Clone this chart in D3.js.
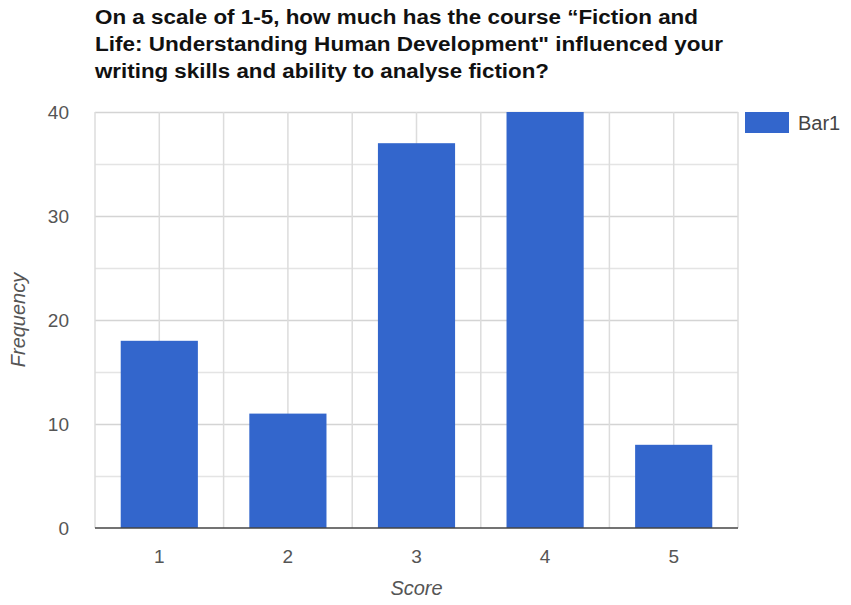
<!DOCTYPE html>
<html>
<head>
<meta charset="utf-8">
<script src="https://cdn.jsdelivr.net/npm/d3@7"></script>
<style>
  body { margin: 0; background: #fff; }
  text { font-family: "Liberation Sans", Arial, sans-serif; }
</style>
</head>
<body>
<svg width="851" height="605"></svg>
<script>
var scores = ["1", "2", "3", "4", "5"];
var frequency = [18, 11, 37, 40, 8];
var yTicks = [0, 10, 20, 30, 40];
var titleLines = [
  "On a scale of 1-5, how much has the course \u201CFiction and",
  "Life: Understanding Human Development\" influenced your",
  "writing skills and ability to analyse fiction?"
];
var seriesName = "Bar1";

var svg = d3.select("svg"),
    margin = {top: 112, right: 113, bottom: 77, left: 95},
    width = +svg.attr("width") - margin.left - margin.right,
    height = +svg.attr("height") - margin.top - margin.bottom,
    g = svg.append("g").attr("transform", "translate(" + margin.left + "," + margin.top + ")");

var x = d3.scaleBand().domain(scores).range([0, width]).paddingInner(0).paddingOuter(0);
var y = d3.scaleLinear().domain([0, 40]).range([height, 0]);

// horizontal grid, every 5
g.selectAll(".hgrid")
    .data(d3.range(5, 41, 5))
    .enter().append("line")
    .attr("x1", 0).attr("x2", width)
    .attr("y1", function(d) { return y(d) + 0.5; })
    .attr("y2", function(d) { return y(d) + 0.5; })
    .attr("stroke", function(d) { return d % 10 === 0 ? "#d4d4d4" : "#e4e4e4"; })
    .attr("stroke-width", 1.5);

// vertical grid at band edges and centres
var vlines = [];
scores.forEach(function(s) {
  vlines.push(x(s));
  vlines.push(x(s) + x.bandwidth() / 2);
});
vlines.push(width);
g.selectAll(".vgrid")
    .data(vlines)
    .enter().append("line")
    .attr("x1", function(d) { return d; }).attr("x2", function(d) { return d; })
    .attr("y1", 0).attr("y2", height)
    .attr("stroke", "#dcdcdc")
    .attr("stroke-width", 1.5);

// bars
g.selectAll(".bar")
    .data(frequency)
    .enter().append("rect")
    .attr("x", function(d, i) { return x(scores[i]) + x.bandwidth() * 0.2; })
    .attr("width", x.bandwidth() * 0.6)
    .attr("y", function(d) { return y(d); })
    .attr("height", function(d) { return height - y(d); })
    .attr("fill", "#3366cc");

// baseline
g.append("line")
    .attr("x1", 0).attr("x2", width)
    .attr("y1", height).attr("y2", height)
    .attr("stroke", "#444").attr("stroke-width", 1.5);

// y tick labels
g.selectAll(".ytick")
    .data(yTicks)
    .enter().append("text")
    .attr("x", -26)
    .attr("y", function(d) { return y(d); })
    .attr("dy", "0.36em")
    .attr("text-anchor", "end")
    .attr("font-size", 19)
    .attr("fill", "#555")
    .text(function(d) { return d; });

// x tick labels
g.selectAll(".xtick")
    .data(scores)
    .enter().append("text")
    .attr("x", function(d) { return x(d) + x.bandwidth() / 2; })
    .attr("y", height + 35)
    .attr("text-anchor", "middle")
    .attr("font-size", 19)
    .attr("fill", "#555")
    .text(function(d) { return d; });

// axis titles
svg.append("text")
    .attr("x", margin.left + width / 2)
    .attr("y", 595)
    .attr("text-anchor", "middle")
    .attr("font-size", 20)
    .attr("font-style", "italic")
    .attr("fill", "#555")
    .text("Score");

svg.append("text")
    .attr("transform", "translate(25," + (margin.top + height / 2) + ") rotate(-90)")
    .attr("text-anchor", "middle")
    .attr("font-size", 20)
    .attr("font-style", "italic")
    .attr("fill", "#555")
    .text("Frequency");

// title (reference lettering is a bit wide, so stretch each line)
var titleWidths = [603, 628, 454];
svg.append("g").selectAll("text")
    .data(titleLines)
    .enter().append("text")
    .attr("x", 95)
    .attr("y", function(d, i) { return 24 + i * 27; })
    .attr("font-size", 19.5)
    .attr("font-weight", "bold")
    .attr("fill", "#111")
    .attr("textLength", function(d, i) { return titleWidths[i]; })
    .attr("lengthAdjust", "spacingAndGlyphs")
    .text(function(d) { return d; });

// legend
var legend = svg.append("g").attr("transform", "translate(745,112)");
legend.append("rect")
    .attr("width", 44).attr("height", 21)
    .attr("fill", "#3366cc");
legend.append("text")
    .attr("x", 53).attr("y", 11)
    .attr("dy", "0.36em")
    .attr("font-size", 20)
    .attr("fill", "#444")
    .text(seriesName);
</script>
</body>
</html>
